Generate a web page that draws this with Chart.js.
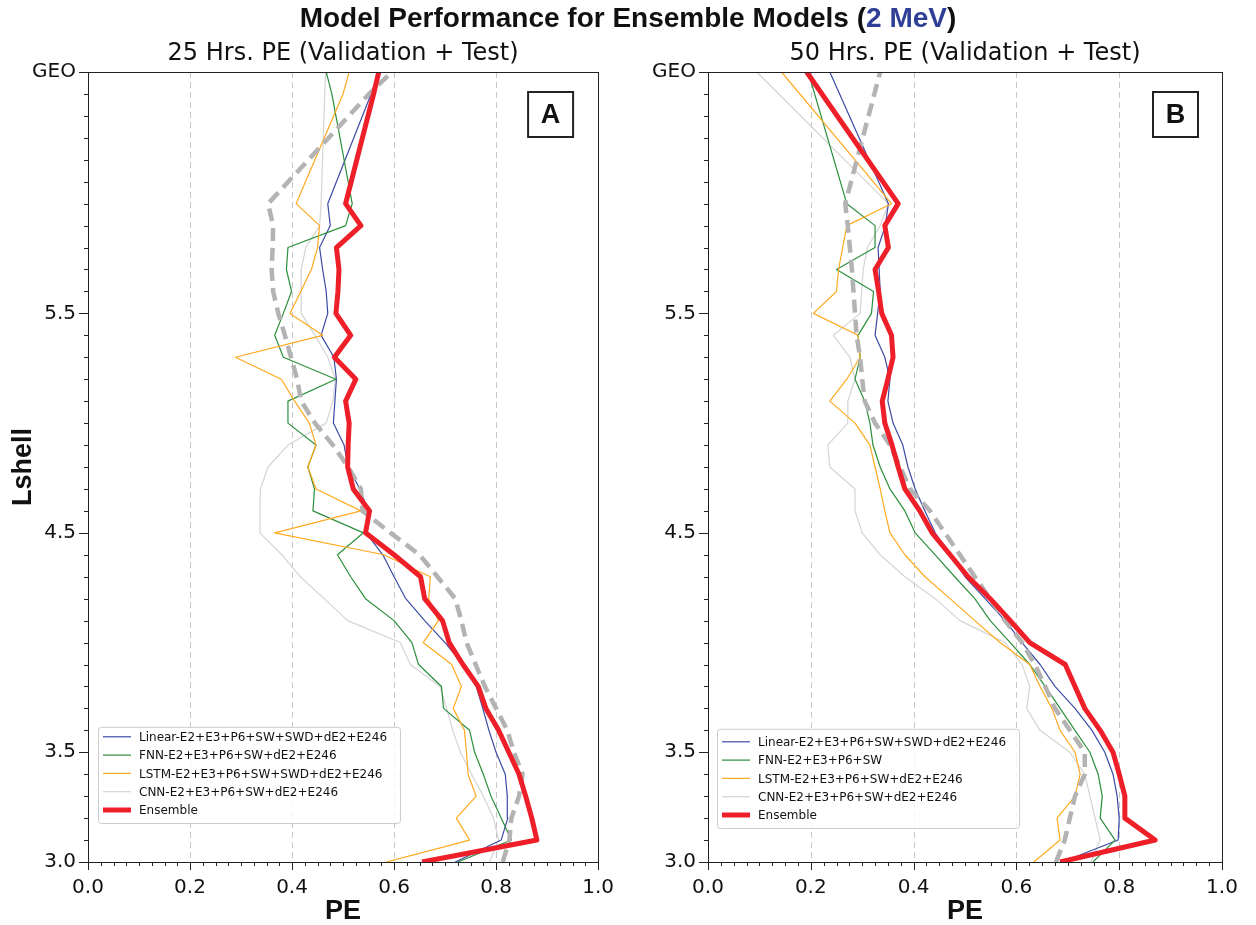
<!DOCTYPE html>
<html lang="en">
  <head>
    <meta charset="UTF-8" />
    <title>Model Performance for Ensemble Models (2 MeV)</title>
    <style>
      body { margin: 0; background: #fff; }
      #page { position: relative; width: 1256px; height: 925px; }
      #title {
        position: absolute; left: 0; top: 0; width: 1256px;
        text-align: center; color: #111;
        font: bold 28px "Liberation Sans", Arial, sans-serif; line-height: 36px;
      }
      #title .mev { color: #2e3f95; }
      .panel { position: absolute; top: 0; width: 628px; height: 925px; }
      #panelA { left: 0; }
      #panelB { left: 628px; }
    </style>
  </head>
  <body>
    <div id="page">
      <div class="panel" id="panelA"><canvas id="chartA" width="628" height="925"></canvas></div>
      <div class="panel" id="panelB"><canvas id="chartB" width="628" height="925"></canvas></div>
      <div id="title">Model Performance for Ensemble Models (<span class="mev">2 MeV</span>)</div>
    </div>

    <script src="https://cdn.jsdelivr.net/npm/chart.js"></script>
    <script>
      // L-shell of GEO on the linear axis
      const geoL = 6.6;
      const yTickValues = [3.0, 3.5, 4.5, 5.5, geoL];
      const xTickValues = [0.0, 0.2, 0.4, 0.6, 0.8, 1.0];

      // panel A (25 hrs)
      const lshellA = [3.0, 3.1, 3.2, 3.3, 3.4, 3.5, 3.6, 3.7, 3.8, 3.9, 4.0, 4.1, 4.2, 4.3, 4.4, 4.5,
        4.6, 4.7, 4.8, 4.9, 5.0, 5.1, 5.2, 5.3, 5.4, 5.5, 5.6, 5.7, 5.8, 5.9, 6.0, 6.5, geoL];
      const linearA = [0.72, 0.81, 0.823, 0.822, 0.818, 0.80, 0.786, 0.774, 0.761, 0.735, 0.70, 0.66, 0.623, 0.60, 0.578, 0.545,
        0.549, 0.533, 0.51, 0.502, 0.481, 0.484, 0.487, 0.482, 0.457, 0.47, 0.467, 0.46, 0.454, 0.475, 0.47, 0.555, 0.57];
      const fnnA = [0.725, 0.83, 0.81, 0.79, 0.775, 0.758, 0.748, 0.697, 0.693, 0.648, 0.635, 0.60, 0.544, 0.515, 0.489, 0.54,
        0.441, 0.444, 0.431, 0.447, 0.392, 0.392, 0.486, 0.383, 0.366, 0.383, 0.399, 0.389, 0.392, 0.505, 0.518, 0.478, 0.467];
      const lstmA = [0.585, 0.748, 0.722, 0.761, 0.745, 0.742, 0.738, 0.716, 0.732, 0.713, 0.657, 0.687, 0.668, 0.671, 0.58, 0.366,
        0.535, 0.447, 0.431, 0.447, 0.434, 0.405, 0.379, 0.289, 0.46, 0.396, 0.417, 0.438, 0.45, 0.454, 0.408, 0.50, 0.512];
      const cnnA = [0.787, 0.805, 0.795, 0.775, 0.752, 0.73, 0.715, 0.703, 0.69, 0.632, 0.612, 0.509, 0.463, 0.416, 0.38, 0.337,
        0.337, 0.338, 0.353, 0.392, 0.467, 0.48, 0.485, 0.47, 0.445, 0.418, 0.418, 0.418, 0.427, 0.454, 0.457, 0.464, 0.466];
      const ensembleA = [0.655, 0.88, 0.87, 0.858, 0.845, 0.825, 0.805, 0.78, 0.765, 0.735, 0.708, 0.695, 0.66, 0.652, 0.60, 0.544,
        0.552, 0.52, 0.509, 0.51, 0.512, 0.505, 0.525, 0.483, 0.515, 0.486, 0.49, 0.492, 0.487, 0.535, 0.505, 0.56, 0.57];
      const dashedA = [0.813, 0.826, 0.83, 0.845, 0.852, 0.835, 0.822, 0.80, 0.778, 0.76, 0.742, 0.732, 0.72, 0.685, 0.65, 0.593,
        0.538, 0.535, 0.51, 0.48, 0.445, 0.418, 0.41, 0.398, 0.386, 0.373, 0.363, 0.36, 0.362, 0.363, 0.353, 0.551, 0.596];
      const labelsA = ["Linear-E2+E3+P6+SW+SWD+dE2+E246", "FNN-E2+E3+P6+SW+dE2+E246",
        "LSTM-E2+E3+P6+SW+SWD+dE2+E246", "CNN-E2+E3+P6+SW+dE2+E246", "Ensemble"];

      // panel B (50 hrs)
      const lshellB = [3.0, 3.1, 3.2, 3.3, 3.4, 3.5, 3.6, 3.7, 3.8, 3.9, 4.0, 4.1, 4.2, 4.3, 4.4, 4.5,
        4.6, 4.7, 4.8, 4.9, 5.0, 5.1, 5.2, 5.3, 5.4, 5.5, 5.6, 5.7, 5.8, 5.9, 6.0, geoL];
      const linearB = [0.689, 0.798, 0.80, 0.796, 0.788, 0.772, 0.747, 0.714, 0.675, 0.646, 0.611, 0.578, 0.539, 0.50, 0.471, 0.442,
        0.422, 0.403, 0.389, 0.379, 0.36, 0.35, 0.354, 0.344, 0.325, 0.33, 0.335, 0.333, 0.331, 0.345, 0.351, 0.237];
      const fnnB = [0.749, 0.792, 0.763, 0.767, 0.759, 0.743, 0.714, 0.685, 0.656, 0.626, 0.588, 0.549, 0.519, 0.48, 0.442, 0.403,
        0.383, 0.354, 0.335, 0.321, 0.315, 0.305, 0.286, 0.296, 0.292, 0.318, 0.322, 0.25, 0.325, 0.325, 0.27, 0.195];
      const lstmB = [0.634, 0.685, 0.679, 0.714, 0.724, 0.714, 0.685, 0.669, 0.646, 0.626, 0.568, 0.519, 0.471, 0.422, 0.383, 0.354,
        0.344, 0.335, 0.325, 0.315, 0.286, 0.237, 0.27, 0.296, 0.292, 0.205, 0.25, 0.254, 0.262, 0.27, 0.357, 0.143];
      const cnnB = [0.745, 0.763, 0.753, 0.743, 0.733, 0.704, 0.646, 0.62, 0.626, 0.611, 0.578, 0.49, 0.442, 0.383, 0.335, 0.30,
        0.286, 0.286, 0.237, 0.233, 0.272, 0.272, 0.286, 0.276, 0.244, 0.296, 0.299, 0.302, 0.31, 0.335, 0.351, 0.095];
      const ensembleB = [0.685, 0.87, 0.811, 0.811, 0.80, 0.788, 0.763, 0.733, 0.714, 0.695, 0.626, 0.588, 0.549, 0.506, 0.471, 0.436,
        0.412, 0.383, 0.37, 0.358, 0.344, 0.339, 0.35, 0.36, 0.357, 0.338, 0.332, 0.325, 0.351, 0.344, 0.37, 0.192];
      const dashedB = [0.677, 0.694, 0.704, 0.714, 0.733, 0.733, 0.704, 0.675, 0.656, 0.636, 0.611, 0.578, 0.549, 0.519, 0.49, 0.461,
        0.432, 0.393, 0.374, 0.354, 0.325, 0.305, 0.30, 0.296, 0.289, 0.286, 0.283, 0.28, 0.276, 0.272, 0.267, 0.335];
      const labelsB = ["Linear-E2+E3+P6+SW+SWD+dE2+E246", "FNN-E2+E3+P6+SW",
        "LSTM-E2+E3+P6+SW+dE2+E246", "CNN-E2+E3+P6+SW+dE2+E246", "Ensemble"];

      const styles = [
        { color: "#3b4ba5", width: 1.2, order: 5 },
        { color: "#2b8f3c", width: 1.2, order: 4 },
        { color: "#ffa91f", width: 1.2, order: 3 },
        { color: "#d4d4d4", width: 1.2, order: 6 },
        { color: "#ee1f28", width: 5, order: 0 },
      ];

      function toPoints(pe, lshell) {
        return pe.map((v, i) => ({ x: v, y: lshell[i] }));
      }

      function makeDatasets(lshell, series, labels, dashed) {
        const sets = series.map((pe, i) => ({
          label: labels[i],
          data: toPoints(pe, lshell),
          borderColor: styles[i].color,
          backgroundColor: styles[i].color,
          borderWidth: styles[i].width,
          order: styles[i].order,
          borderJoinStyle: "round",
        }));
        sets.push({
          label: "reference",
          hideInLegend: true,
          data: toPoints(dashed, lshell),
          borderColor: "#b3b3b3",
          backgroundColor: "#b3b3b3",
          borderWidth: 4.5,
          borderDash: [13, 7],
          order: 1,
        });
        return sets;
      }

      const panelDecor = {
        id: "panelDecor",
        beforeDatasetsDraw(chart) {
          const { ctx, chartArea: a, scales } = chart;
          ctx.save();
          ctx.strokeStyle = "#c6c6c6";
          ctx.lineWidth = 1;
          ctx.setLineDash([6, 4]);
          xTickValues.slice(1, -1).forEach((v) => {
            const px = Math.round(scales.x.getPixelForValue(v)) + 0.5;
            ctx.beginPath();
            ctx.moveTo(px, a.top);
            ctx.lineTo(px, a.bottom);
            ctx.stroke();
          });
          ctx.restore();
        },
        afterDraw(chart, args, opts) {
          const { ctx, chartArea: a, scales } = chart;
          ctx.save();
          // frame
          ctx.strokeStyle = "#222";
          ctx.lineWidth = 1;
          ctx.strokeRect(Math.round(a.left) + 0.5, Math.round(a.top) + 0.5,
            Math.round(a.right - a.left), Math.round(a.bottom - a.top));

          // ticks
          ctx.beginPath();
          for (let i = 0; i <= 40; i++) {
            const px = Math.round(scales.x.getPixelForValue(i * 0.025)) + 0.5;
            const len = i % 8 === 0 ? 8 : 4;
            ctx.moveTo(px, a.bottom);
            ctx.lineTo(px, a.bottom + len);
          }
          for (let i = 0; i <= 35; i++) {
            const py = Math.round(scales.y.getPixelForValue(3.0 + i * 0.1)) + 0.5;
            ctx.moveTo(a.left, py);
            ctx.lineTo(a.left - 4, py);
          }
          yTickValues.forEach((v) => {
            const py = Math.round(scales.y.getPixelForValue(v)) + 0.5;
            ctx.moveTo(a.left, py);
            ctx.lineTo(a.left - 9, py);
          });
          ctx.stroke();

          // subtitle
          ctx.fillStyle = "#111";
          ctx.font = '24px "DejaVu Sans"';
          ctx.textAlign = "center";
          ctx.textBaseline = "alphabetic";
          ctx.fillText(opts.subtitle, (a.left + a.right) / 2, 60);

          // panel letter
          const bs = 45;
          const bx = a.right - opts.letterRight - bs;
          const by = a.top + 20;
          ctx.lineWidth = 2;
          ctx.strokeRect(bx, by, bs, bs);
          ctx.font = 'bold 27px "Liberation Sans"';
          ctx.textBaseline = "middle";
          ctx.fillText(opts.letter, bx + bs / 2, by + bs / 2 + 1);

          // legend
          const items = chart.data.datasets.filter((d) => !d.hideInLegend);
          ctx.font = '12px "DejaVu Sans"';
          ctx.textAlign = "left";
          const rowH = 18.3;
          const textW = Math.max(...items.map((d) => ctx.measureText(d.label).width));
          const lw = 41 + textW + 13;
          const lh = opts.legendTop + (items.length - 1) * rowH + 13;
          const lx = a.left + opts.legendLeft;
          const ly = a.bottom - opts.legendBottom - lh;
          ctx.beginPath();
          ctx.roundRect(lx + 0.5, ly + 0.5, lw, lh, 3);
          ctx.fillStyle = "rgba(255,255,255,0.8)";
          ctx.fill();
          ctx.strokeStyle = "#cccccc";
          ctx.lineWidth = 1;
          ctx.stroke();
          items.forEach((d, i) => {
            const cy = ly + opts.legendTop + i * rowH;
            ctx.beginPath();
            ctx.strokeStyle = d.borderColor;
            ctx.lineWidth = d.borderWidth;
            ctx.moveTo(lx + 5, cy);
            ctx.lineTo(lx + 33, cy);
            ctx.stroke();
            ctx.fillStyle = "#111";
            ctx.fillText(d.label, lx + 41, cy + 1);
          });
          ctx.restore();
        },
      };

      function makeChart(id, lshell, series, labels, dashed, panel) {
        return new Chart(id, {
          type: "scatter",
          data: { datasets: makeDatasets(lshell, series, labels, dashed) },
          plugins: [panelDecor],
          options: {
            responsive: false,
            animation: false,
            showLine: true,
            elements: { point: { radius: 0, hoverRadius: 0 }, line: { tension: 0 } },
            layout: { padding: { top: 72, right: panel.rightPad, bottom: 0, left: 0 } },
            plugins: {
              legend: { display: false },
              tooltip: { enabled: false },
              panelDecor: panel.decor,
            },
            scales: {
              x: {
                type: "linear",
                min: 0,
                max: 1,
                afterBuildTicks: (s) => { s.ticks = xTickValues.map((v) => ({ value: v })); },
                afterFit: (s) => { s.height = 63; },
                grid: { display: false, drawTicks: false },
                border: { display: false },
                ticks: {
                  padding: 14, color: "#111", autoSkip: false, maxRotation: 0,
                  font: { family: "DejaVu Sans", size: 20 },
                  callback: (v) => v.toFixed(1),
                },
                title: {
                  display: true, text: "PE", color: "#111",
                  font: { family: "Liberation Sans", weight: "bold", size: 27, lineHeight: 1 },
                  padding: { top: 0, bottom: 0 },
                },
              },
              y: {
                type: "linear",
                min: 3.0,
                max: geoL,
                afterBuildTicks: (s) => { s.ticks = yTickValues.map((v) => ({ value: v })); },
                afterFit: (s) => { s.width = panel.yWidth; },
                grid: { display: false, drawTicks: false },
                border: { display: false },
                ticks: {
                  padding: 12, color: "#111", autoSkip: false,
                  font: { family: "DejaVu Sans", size: 20 },
                  callback: (v) => (v === geoL ? "GEO" : v.toFixed(1)),
                },
                title: {
                  display: panel.yTitle, text: "Lshell", color: "#111",
                  font: { family: "Liberation Sans", weight: "bold", size: 27, lineHeight: 1 },
                  padding: { top: 10, bottom: 0 },
                },
              },
            },
          },
        });
      }

      makeChart("chartA", lshellA, [linearA, fnnA, lstmA, cnnA, ensembleA], labelsA, dashedA, {
        rightPad: 25, yWidth: 88, yTitle: true,
        decor: { subtitle: "25 Hrs. PE (Validation + Test)", letter: "A", letterRight: 25,
          legendLeft: 10, legendBottom: 39, legendTop: 10 },
      });
      makeChart("chartB", lshellB, [linearB, fnnB, lstmB, cnnB, ensembleB], labelsB, dashedB, {
        rightPad: 34, yWidth: 80, yTitle: false,
        decor: { subtitle: "50 Hrs. PE (Validation + Test)", letter: "B", letterRight: 24,
          legendLeft: 9, legendBottom: 34, legendTop: 13 },
      });
    </script>
  </body>
</html>
